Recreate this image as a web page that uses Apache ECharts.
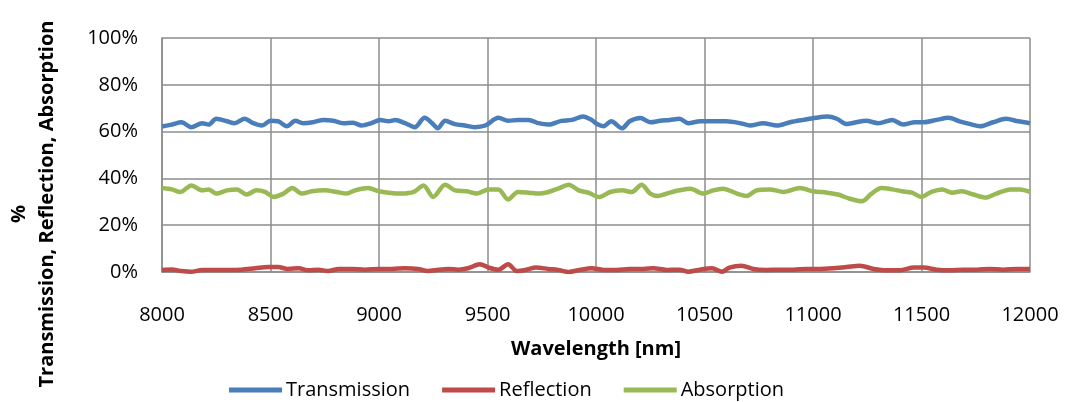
<!DOCTYPE html>
<html>
<head>
<meta charset="utf-8">
<script src="https://cdn.jsdelivr.net/npm/echarts@6/dist/echarts.min.js"></script>
<style>
html,body{margin:0;padding:0;background:#fff;}
#chart{width:1065px;height:402px;}
</style>
</head>
<body>
<div id="chart"></div>
<script>
// Wavelength ticks
const xTicks = [8000, 8500, 9000, 9500, 10000, 10500, 11000, 11500, 12000];
const yTicks = [0, 20, 40, 60, 80, 100];
const seriesNames = ['Transmission', 'Reflection', 'Absorption'];

// Transmission (% )
const transWl = [8000,8045,8090,8135,8185,8215,8250,8300,8335,8380,8420,8460,8500,8535,8575,8615,8650,8695,8745,8790,8835,8880,8920,8965,9005,9045,9075,9120,9165,9210,9245,9270,9305,9350,9395,9440,9490,9550,9595,9640,9690,9735,9780,9840,9890,9940,9980,10005,10035,10070,10120,10155,10205,10250,10295,10340,10385,10425,10480,10540,10600,10665,10710,10770,10835,10895,10955,11015,11065,11110,11155,11200,11245,11300,11365,11415,11470,11510,11570,11625,11675,11725,11770,11830,11890,11945,12000];
const transVal = [62.2,63.0,64.0,61.9,63.6,63.0,65.5,64.4,63.6,65.5,63.6,62.6,64.6,64.4,62.3,64.6,63.6,64.0,65.0,64.6,63.6,63.8,62.6,63.6,65.0,64.4,65.0,63.6,61.9,65.9,63.6,61.4,64.6,63.2,62.6,61.9,62.6,65.9,64.6,65.0,65.0,63.6,63.0,64.6,65.0,66.5,65.0,63.2,62.3,64.4,61.4,64.4,65.8,64.0,64.6,65.0,65.5,63.6,64.4,64.4,64.4,63.6,62.6,63.6,62.6,64.0,65.0,65.9,66.4,65.5,63.2,64.0,64.6,63.6,65.0,63.0,64.0,64.0,65.0,65.9,64.4,63.2,62.3,64.0,65.5,64.4,63.6];

// Reflection (%)
const reflWl = [8000,8045,8090,8135,8185,8245,8305,8365,8430,8490,8535,8580,8630,8675,8720,8765,8815,8875,8935,9000,9060,9120,9180,9225,9275,9320,9365,9410,9465,9505,9550,9595,9635,9675,9725,9780,9825,9875,9925,9980,10035,10095,10155,10220,10265,10325,10385,10425,10480,10535,10580,10615,10670,10725,10785,10850,10910,10970,11030,11095,11155,11215,11280,11340,11400,11465,11510,11570,11630,11695,11755,11815,11875,11940,12000];
const reflVal = [0.9,1.1,0.4,0.1,0.9,0.9,0.9,1.0,1.6,2.1,2.1,1.3,1.6,0.7,1.0,0.4,1.3,1.3,1.0,1.3,1.3,1.6,1.3,0.4,1.0,1.3,1.0,1.6,3.3,1.9,1.0,3.3,0.4,0.9,1.9,1.3,0.9,0.0,0.9,1.6,0.9,0.9,1.3,1.3,1.6,0.9,1.0,0.1,1.0,1.6,0.1,1.9,2.7,1.3,0.9,1.0,1.0,1.3,1.3,1.6,2.1,2.7,1.3,0.7,0.7,1.9,1.9,1.0,0.7,1.0,1.0,1.3,1.0,1.3,1.3];

// Absorption (%)
const absWl = [8000,8045,8085,8135,8185,8215,8250,8300,8345,8390,8435,8475,8515,8560,8600,8645,8690,8750,8805,8850,8890,8950,9000,9045,9105,9160,9205,9250,9305,9350,9405,9450,9505,9550,9595,9640,9690,9735,9780,9825,9875,9920,9965,10015,10065,10120,10165,10210,10250,10285,10340,10385,10435,10495,10540,10585,10650,10695,10740,10800,10865,10940,11000,11065,11115,11170,11225,11270,11315,11365,11410,11455,11500,11545,11595,11640,11685,11740,11795,11845,11910,11955,12000];
const absVal = [35.9,35.3,34.2,37.0,34.9,35.3,33.5,34.9,35.3,33.1,34.9,34.2,32.1,33.5,35.9,33.5,34.5,34.9,34.2,33.5,34.9,35.9,34.5,33.9,33.5,34.2,37.0,32.1,37.3,34.9,34.5,33.5,35.3,35.3,31.0,34.2,33.9,33.5,34.2,35.6,37.3,34.9,33.9,32.0,34.2,34.9,34.2,37.3,33.5,32.5,33.9,34.9,35.6,33.5,34.9,35.6,33.5,32.5,34.9,35.3,34.2,35.9,34.5,33.9,33.1,31.3,30.2,33.5,35.9,35.3,34.5,33.9,32.1,34.2,35.3,33.9,34.5,33.1,31.8,33.5,35.3,35.3,34.2];

const colors = ['#4A7EBB', '#BE4B48', '#98B954'];
const FONT = 'Open Sans';
const zip = (a, b) => a.map((x, i) => [x, b[i]]);

const chart = echarts.init(document.getElementById('chart'), null, {renderer: 'canvas'});
chart.setOption({
  animation: false,
  backgroundColor: '#fff',
  color: colors,
  grid: {left: 162, right: 35, top: 38, bottom: 130, containLabel: false},
  xAxis: {
    type: 'value',
    min: xTicks[0], max: xTicks[xTicks.length - 1], interval: 500,
    axisLine: {show: true, lineStyle: {color: '#8c8c8c', width: 1.5}},
    axisTick: {show: false},
    splitLine: {show: true, lineStyle: {color: '#8c8c8c', width: 1.5}},
    axisLabel: {color: '#000', fontFamily: FONT, fontSize: 20, margin: 33, formatter: v => String(v)}
  },
  yAxis: {
    type: 'value',
    min: yTicks[0], max: yTicks[yTicks.length - 1], interval: 20,
    axisLine: {show: true, lineStyle: {color: '#8c8c8c', width: 1.5}},
    axisTick: {show: false},
    splitLine: {show: true, lineStyle: {color: '#8c8c8c', width: 1.5}},
    axisLabel: {color: '#000', fontFamily: FONT, fontSize: 20, margin: 24, formatter: '{value}%'}
  },
  legend: {
    left: 224, top: 375,
    itemWidth: 53, itemHeight: 5, itemGap: 32,
    icon: 'rect',
    textStyle: {color: '#000', fontFamily: FONT, fontSize: 20, padding: [0, 0, 0, -1]},
    data: seriesNames
  },
  graphic: [
    {type: 'text', x: 596, y: 349, style: {text: 'Wavelength [nm]', font: 'bold 20px "Open Sans"', fill: '#000', align: 'center', verticalAlign: 'middle'}},
    {type: 'text', x: 19, y: 214, rotation: Math.PI / 2, style: {text: '%', font: 'bold 20px "Open Sans"', fill: '#000', align: 'center', verticalAlign: 'middle'}},
    {type: 'text', x: 47, y: 204, rotation: Math.PI / 2, style: {text: 'Transmission, Reflection, Absorption', font: 'bold 20px "Open Sans"', fill: '#000', align: 'center', verticalAlign: 'middle'}}
  ],
  series: [
    {name: seriesNames[0], type: 'line', data: zip(transWl, transVal), showSymbol: false, smooth: 0.3, lineStyle: {width: 4.5, color: colors[0]}},
    {name: seriesNames[1], type: 'line', data: zip(reflWl, reflVal), showSymbol: false, smooth: 0.3, lineStyle: {width: 4.5, color: colors[1]}},
    {name: seriesNames[2], type: 'line', data: zip(absWl, absVal), showSymbol: false, smooth: 0.3, lineStyle: {width: 4.5, color: colors[2]}}
  ]
});
</script>
</body>
</html>
